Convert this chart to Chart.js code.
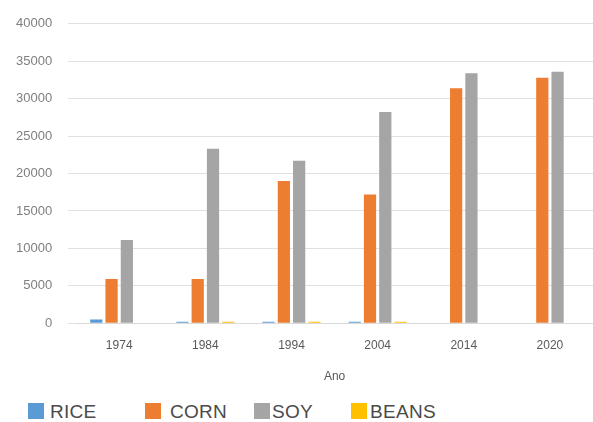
<!DOCTYPE html>
<html>
  <head>
    <meta charset="utf-8">
    <title>Ano chart</title>
    <script src="https://cdn.jsdelivr.net/npm/chart.js@4"></script>
    <style>
      body { margin: 0; background: #fff; font-family: "Liberation Sans", sans-serif; }
      #wrap { position: relative; width: 593px; height: 392px; }
      #legend { position: absolute; top: 402px; left: 28px; font-family: "Liberation Sans Narrow", sans-serif; font-size: 19px; letter-spacing: 0.3px; color: #4a4a4a; line-height: 20px; }
      .item { position: absolute; white-space: nowrap; }
      .box { display: inline-block; width: 16px; height: 16px; vertical-align: -1px; }
    </style>
  </head>
  <body>
    <div id="wrap"><canvas id="gr1"></canvas></div>
    <div id="legend"></div>
    <script>
    // data
    const years = ['1974', '1984', '1994', '2004', '2014', '2020'];
    const rice = [500, 200, 200, 200, 0, 0];
    const corn = [5900, 5900, 19000, 17200, 31400, 32800];
    const soy = [11100, 23300, 21700, 28200, 33400, 33600];
    const beans = [0, 200, 200, 200, 0, 0];
    const seriesNames = ['RICE', 'CORN', 'SOY', 'BEANS'];
    const colors = ['#5b9bd5', '#ed7d31', '#a5a5a5', '#ffc000'];
    const legendLeft = [0, 117, 226, 323];
    const legendGap = [6, 9, 2, 3];

    let config = {
      type: 'bar',
      data: {
        labels: years,
        datasets: [rice, corn, soy, beans].map((d, i) => ({
          label: seriesNames[i],
          data: d,
          backgroundColor: colors[i],
          barPercentage: 0.8,
          categoryPercentage: 0.71
        }))
      },
      options: {
        animation: false,
        responsive: true,
        maintainAspectRatio: false,
        layout: { padding: { left: 0, right: 0, top: 16, bottom: 4 } },
        plugins: { legend: { display: false }, tooltip: { enabled: false } },
        scales: {
          x: {
            grid: { display: false },
            border: { color: '#d9d9d9' },
            ticks: { color: '#595959', font: { size: 12 }, padding: 7 },
            title: { display: true, text: 'Ano', color: '#595959', font: { size: 12 }, padding: { top: 10 } }
          },
          y: {
            min: 0,
            max: 40000,
            ticks: {
              stepSize: 5000, color: '#7f7f7f', font: { size: 13 }, padding: 16,
              callback: v => String(v)
            },
            grid: { color: '#e0e0e0' },
            border: { display: false }
          }
        }
      }
    };

    var ctx = document.getElementById('gr1').getContext('2d');
    let graph1 = new Chart(ctx, config);

    // legend below, same spacing as the picture
    const lg = document.getElementById('legend');
    seriesNames.forEach((n, i) => {
      const el = document.createElement('span');
      el.className = 'item';
      el.style.left = legendLeft[i] + 'px';
      el.innerHTML = '<span class="box" style="background:' + colors[i] + ';margin-right:' + legendGap[i] + 'px"></span>' + n;
      lg.appendChild(el);
    });
    </script>
  </body>
</html>
